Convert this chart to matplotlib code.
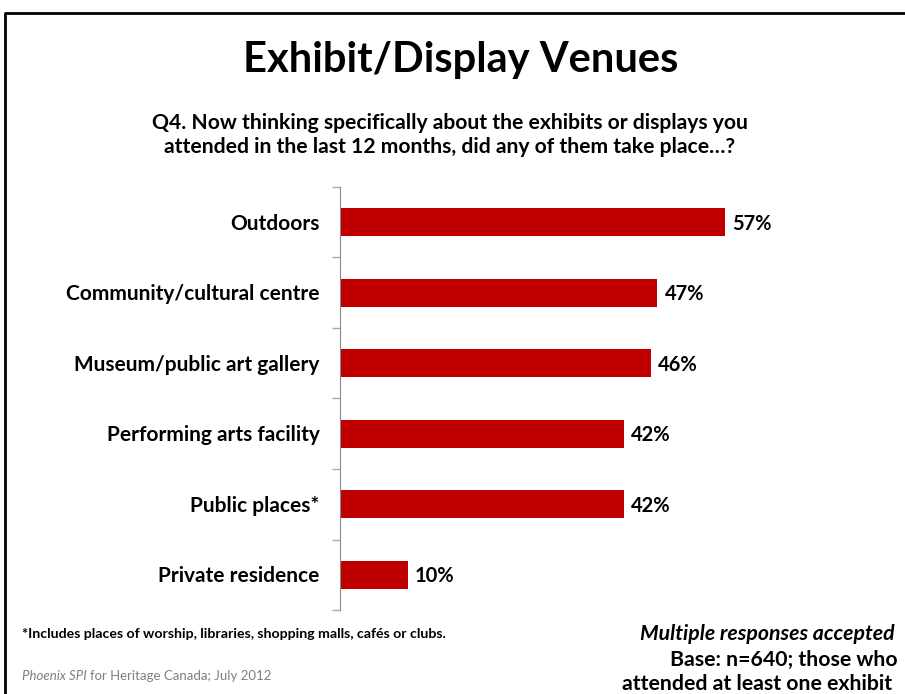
import matplotlib.pyplot as plt
from matplotlib.lines import Line2D

categories = ["Outdoors", "Community/cultural centre", "Museum/public art gallery",
              "Performing arts facility", "Public places*", "Private residence"]
values = [57, 47, 46, 42, 42, 10]

W, H = 905, 694
plt.rcParams["font.family"] = ["Lato", "DejaVu Sans"]
fig = plt.figure(figsize=(W / 100, H / 100), dpi=100)

# slide border (top and left edges)
fig.add_artist(Line2D([5 / W, 5 / W, 1], [0, 1 - 13 / H, 1 - 13 / H],
                      transform=fig.transFigure, color="black", lw=2))

fig.text(461 / W, 1 - 60 / H, "Exhibit/Display Venues", ha="center", va="center",
         fontsize=30, fontweight="bold")
fig.text(450 / W, 1 - 135 / H,
         "Q4. Now thinking specifically about the exhibits or displays you\n"
         "attended in the last 12 months, did any of them take place\u2026?",
         ha="center", va="center", fontsize=15.2, fontweight="bold", linespacing=1.25)

# axes: left at x=340, top y=187, bottom y=610; 0..80% spans 540 px
left, top, bottom = 340, 187, 610
ax = fig.add_axes([left / W, 1 - bottom / H, 540 / W, (bottom - top) / H])
ypos = list(range(len(categories)))
ax.barh(ypos, values, height=0.4, color="#C00000", edgecolor="none")
ax.set_xlim(0, 80)
ax.set_ylim(len(categories) - 0.5, -0.5)
for y, v in zip(ypos, values):
    ax.text(v + 1.1, y + 0.02, f"{v}%", va="center", ha="left", fontsize=14.5,
            fontweight="bold")
    ax.text(-3, y + 0.02, categories[y], va="center", ha="right", fontsize=15,
            fontweight="bold")

for s in ["top", "right", "bottom"]:
    ax.spines[s].set_visible(False)
ax.spines["left"].set_color("#888888")
ax.set_xticks([])
ax.set_yticks([i - 0.5 for i in range(len(categories) + 1)])
ax.set_yticklabels([])
ax.tick_params(axis="y", length=6, color="#AAAAAA", width=1)

fig.text(22 / W, 1 - 634 / H,
         "*Includes places of worship, libraries, shopping malls, caf\u00e9s or clubs.",
         ha="left", va="center", fontsize=10.2, fontweight="bold")
fig.text(22 / W, 1 - 676 / H, "Phoenix SPI", ha="left", va="center", fontsize=9.5,
         style="italic", color="#808080")
fig.text(90 / W, 1 - 676 / H, "for Heritage Canada; July 2012", ha="left", va="center",
         fontsize=9.5, color="#808080")

fig.text(640 / W, 1 - 634 / H, "Multiple responses accepted", ha="left", va="center",
         fontsize=15.3, fontweight="bold", style="italic")
fig.text(670 / W, 1 - 660 / H, "Base: n=640; those who", ha="left", va="center",
         fontsize=15.3, fontweight="bold")
fig.text(622 / W, 1 - 684 / H, "attended at least one exhibit", ha="left", va="center",
         fontsize=15.3, fontweight="bold")

fig.savefig("out.png", dpi=100)
